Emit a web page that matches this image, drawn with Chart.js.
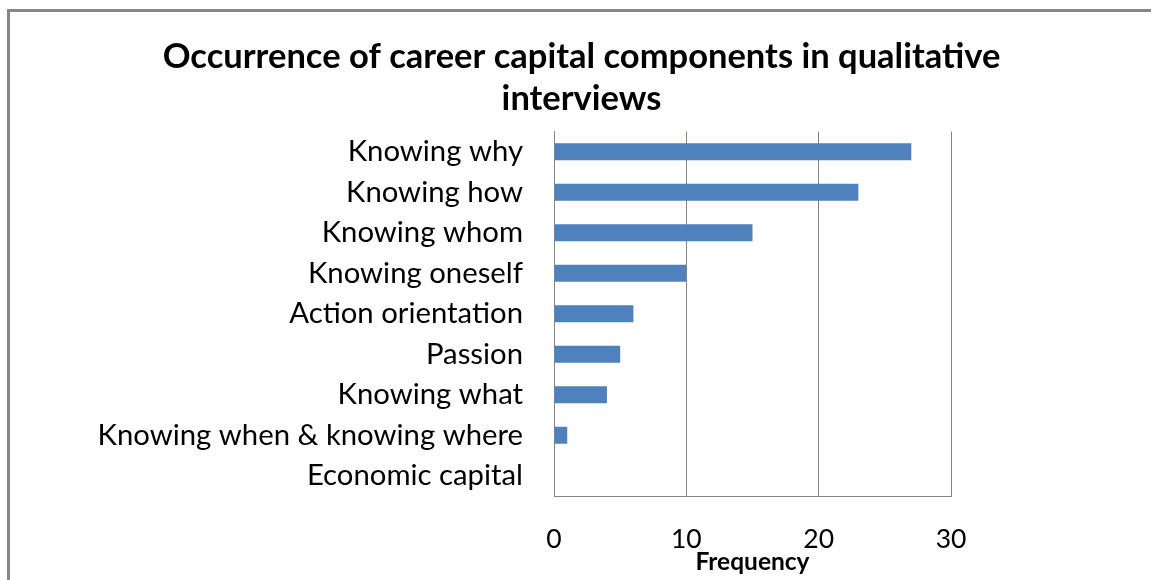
<!DOCTYPE html>
<html>
<head>
<meta charset="utf-8">
<script src="https://cdn.jsdelivr.net/npm/chart.js@4/dist/chart.umd.min.js"></script>
<style>
  html, body { margin: 0; padding: 0; background: #fff; overflow: hidden; }
  #frame {
    position: absolute; left: 7px; top: 9px; width: 1200px; height: 600px;
    border-left: 3px solid #878787; border-top: 3px solid #878787;
  }
  #chart { position: absolute; left: 0; top: 0; }
</style>
</head>
<body>
<div id="frame"></div>
<canvas id="chart" width="1151" height="580"></canvas>
<script>
// career capital components, top to bottom
const components = [
  'Knowing why',
  'Knowing how',
  'Knowing whom',
  'Knowing oneself',
  'Action orientation',
  'Passion',
  'Knowing what',
  'Knowing when & knowing where',
  'Economic capital'
];
const frequency = [27, 23, 15, 10, 6, 5, 4, 1, 0];
const freqTicks = [0, 10, 20, 30];

const FONT = 'Lato, "Open Sans", sans-serif';
const GRID = '#868686';

new Chart(document.getElementById('chart'), {
  type: 'bar',
  data: {
    labels: components,
    datasets: [{
      data: frequency,
      backgroundColor: '#4F81BD',
      barPercentage: 0.42,
      categoryPercentage: 1
    }]
  },
  options: {
    indexAxis: 'y',
    responsive: false,
    devicePixelRatio: 1,
    animation: false,
    layout: { padding: { left: 12 } },
    plugins: {
      legend: { display: false },
      tooltip: { enabled: false },
      title: {
        display: true,
        text: ['Occurrence of career capital components in qualitative', 'interviews'],
        color: '#000',
        font: { family: FONT, size: 34.5, weight: 'bold', lineHeight: 1.24 },
        padding: { top: 35, bottom: 11 }
      }
    },
    scales: {
      x: {
        min: 0,
        max: 30,
        afterBuildTicks: s => { s.ticks = freqTicks.map(v => ({ value: v })); },
        afterFit: s => { s.height = 84; },
        grid: { color: GRID, drawTicks: false, lineWidth: 1 },
        border: { color: GRID, width: 1 },
        ticks: { color: '#000', padding: 28, font: { family: FONT, size: 26.5 } },
        title: {
          display: true,
          text: 'Frequency',
          color: '#000',
          font: { family: FONT, size: 24.5, weight: 'bold', lineHeight: 1.2 },
          padding: { top: 0, bottom: 3 }
        }
      },
      y: {
        afterFit: s => { s.width = 542; },
        grid: { display: false, drawTicks: false },
        border: { color: GRID, width: 1 },
        ticks: { color: '#000', padding: 31, font: { family: FONT, size: 29.3 } }
      },
      // empty strip that keeps the plot clear of the right edge
      spacer: {
        type: 'category',
        position: 'right',
        afterFit: s => { s.width = 200; },
        grid: { display: false },
        border: { display: false },
        ticks: { display: false }
      }
    }
  }
});
</script>
</body>
</html>
